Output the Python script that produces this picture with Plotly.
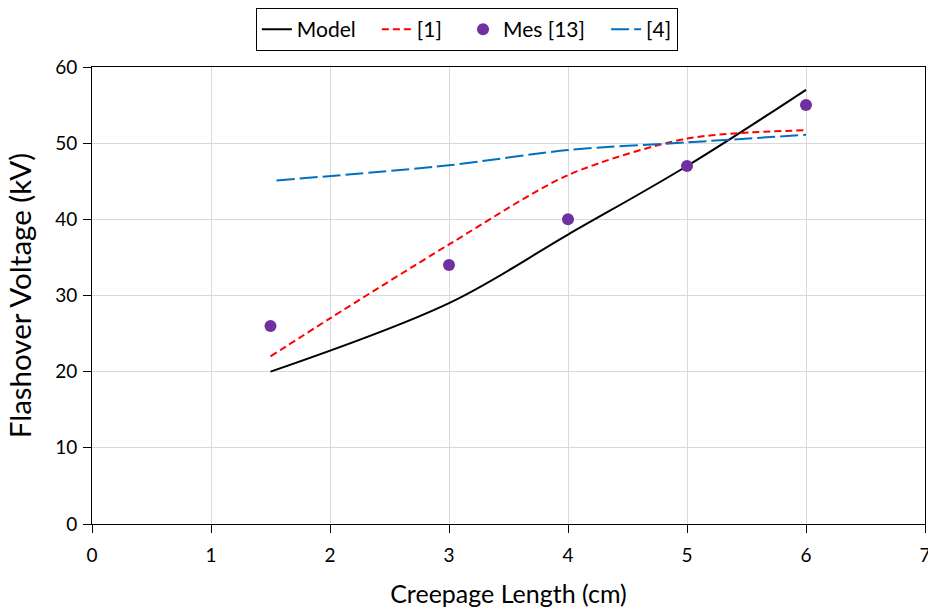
import plotly.graph_objects as go

model_x = [1.5, 3, 4, 5, 6]
model_y = [20, 29, 38, 47, 57]

ref1_x = [1.5, 2, 3, 4, 5, 6]
ref1_y = [22, 27, 36.7, 45.8, 50.6, 51.7]

mes_x = [1.5, 3, 4, 5, 6]
mes_y = [26, 34, 40, 47, 55]

ref4_x = [1.55, 3, 4, 5, 6]
ref4_y = [45.1, 47.1, 49.1, 50.1, 51.1]

FONT = "Lato, 'Open Sans', sans-serif"
PAD = "\u00a0\u00a0\u00a0"

fig = go.Figure()
fig.add_trace(go.Scatter(x=model_x, y=model_y, mode="lines", name="Model" + PAD,
                         line=dict(color="black", width=2, shape="spline", smoothing=1.0)))
fig.add_trace(go.Scatter(x=ref1_x, y=ref1_y, mode="lines", name="[1]" + PAD,
                         line=dict(color="#FF0000", width=2, dash="7px,4px", shape="spline", smoothing=0.8)))
fig.add_trace(go.Scatter(x=mes_x, y=mes_y, mode="markers", name="Mes [13]" + PAD,
                         marker=dict(color="#7030A0", size=12)))
fig.add_trace(go.Scatter(x=ref4_x, y=ref4_y, mode="lines", name="[4]",
                         line=dict(color="#0070C0", width=2, dash="18px,5px", shape="spline", smoothing=0.8)))

fig.update_layout(
    width=928, height=608,
    margin=dict(l=92, r=3, t=67, b=84, autoexpand=False),
    paper_bgcolor="white", plot_bgcolor="white",
    font=dict(family=FONT, color="black", size=18),
    legend=dict(orientation="h", x=0.45, xanchor="center", y=1.129, yanchor="top",
                bordercolor="black", borderwidth=1, font=dict(size=21),
                itemwidth=30, tracegroupgap=0),
    xaxis=dict(range=[0, 7], dtick=1, showgrid=True, gridcolor="#D9D9D9", gridwidth=1,
               showline=True, linecolor="black", linewidth=1, mirror=True,
               ticks="outside", ticklen=8, tickcolor="black", zeroline=False,
               automargin=False,
               tickfont=dict(size=19), ticklabelstandoff=6, ticklabeloverflow="allow",
               title=dict(text="Creepage Length (cm)", font=dict(size=25), standoff=22)),
    yaxis=dict(range=[0, 60], dtick=10, showgrid=True, gridcolor="#D9D9D9", gridwidth=1,
               showline=True, linecolor="black", linewidth=1, mirror=True,
               ticks="outside", ticklen=8, tickcolor="black", zeroline=False,
               automargin=False,
               tickfont=dict(size=19), ticklabelstandoff=2,
               title=dict(text="Flashover Voltage (kV)", font=dict(size=29.5), standoff=14)),
)

fig.write_html("out.html")
